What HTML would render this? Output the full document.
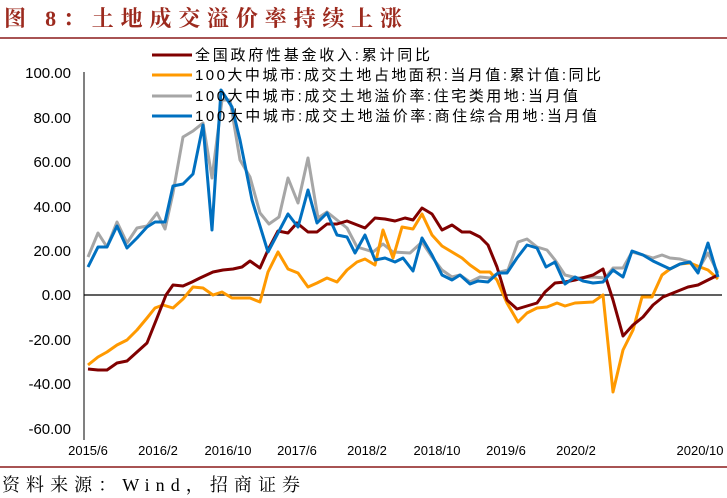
<!DOCTYPE html>
<html><head><meta charset="utf-8"><style>
body{margin:0;width:727px;height:498px;background:#fff;overflow:hidden}
</style></head><body>
<svg width="727" height="498" xmlns="http://www.w3.org/2000/svg" style="position:absolute;left:0;top:0">
<text x="4" y="26" font-family="Liberation Serif, Noto Serif CJK SC, serif" font-size="22" font-weight="bold" fill="#9c2a1e" textLength="398" lengthAdjust="spacing">图 8：土地成交溢价率持续上涨</text>
<line x1="0" y1="38" x2="727" y2="38" stroke="#8b1a1a" stroke-width="1.5"/>
<line x1="0" y1="467" x2="727" y2="467" stroke="#8b1a1a" stroke-width="1.5"/>
<text x="2" y="491" font-family="Liberation Serif, Noto Serif CJK SC, serif" font-size="18" fill="#000" textLength="298" lengthAdjust="spacing">资料来源：Wind，招商证券</text>
<g font-family="Liberation Sans, sans-serif" font-size="15" fill="#000" text-anchor="end">
<text x="71" y="78">100.00</text><text x="71" y="123">80.00</text><text x="71" y="167">60.00</text>
<text x="71" y="212">40.00</text><text x="71" y="256">20.00</text><text x="71" y="300">0.00</text>
<text x="71" y="345">-20.00</text><text x="71" y="389">-40.00</text><text x="71" y="434">-60.00</text>
</g>
<g font-family="Liberation Sans, sans-serif" font-size="13" fill="#000" text-anchor="middle">
<text x="88" y="455">2015/6</text><text x="158" y="455">2016/2</text><text x="228" y="455">2016/10</text>
<text x="297" y="455">2017/6</text><text x="367" y="455">2018/2</text><text x="437" y="455">2018/10</text>
<text x="506" y="455">2019/6</text><text x="576" y="455">2020/2</text><text x="700" y="455">2020/10</text>
</g>
<line x1="84" y1="72" x2="84" y2="440" stroke="#000" stroke-width="1"/>
<line x1="84" y1="295" x2="722" y2="295" stroke="#000" stroke-width="1.2"/>
<g fill="none" stroke-width="3" stroke-linejoin="round">
<polyline stroke="#a6a6a6" points="88,257 98,233 107,247 117,222 127,243 137,228 147,226 157,213 165,229 173,193 183,137 193,131 203,123 212,178 222,100 230,100 240,160 250,177 260,213 269,224 279,217 288,178 298,203 308,158 318,218 327,212 337,220 347,228 357,247 367,250 373,252 383,244 393,252 410,253 422,242 432,257 442,270 452,277 460,275 470,282 480,277 490,278 500,272 508,270 518,242 527,239 537,247 547,250 555,260 565,275 577,278 593,277 605,278 613,268 623,268 632,252 643,255 653,258 662,255 670,258 680,259 690,262 698,270 708,253 718,273"/>
<polyline stroke="#ff9900" points="88,365 98,357 107,352 117,345 127,340 137,330 147,318 155,308 163,305 173,308 183,299 193,287 203,288 213,295 222,292 232,298 240,298 250,298 260,302 268,272 278,252 288,269 298,273 308,287 317,283 327,278 337,282 347,270 357,262 365,259 375,265 383,230 393,258 402,227 413,229 422,214 432,235 442,246 452,252 462,258 470,265 480,272 490,272 497,280 507,303 518,322 527,313 537,308 547,307 557,303 565,306 575,303 593,302 603,295 613,392 623,350 633,330 642,297 652,297 662,275 670,269 680,264 690,263 700,267 708,270 718,279"/>
<polyline stroke="#800000" points="88,369 98,370 107,370 117,363 127,361 137,352 147,343 157,318 166,295 173,285 183,286 192,282 200,278 213,272 223,270 233,269 242,267 250,261 260,268 268,250 278,231 288,233 297,223 308,232 317,232 327,224 337,224 347,221 365,228 375,218 385,219 395,221 405,218 413,220 422,208 432,214 442,230 452,225 462,232 470,232 480,237 488,245 497,267 507,300 517,309 527,306 537,303 545,292 555,283 565,282 575,280 593,275 603,269 613,300 623,336 633,325 643,317 653,305 663,297 673,293 688,287 698,285 708,280 718,275"/>
<polyline stroke="#0070c0" points="88,267 98,247 107,247 117,226 127,248 137,238 147,227 155,222 165,222 173,186 183,184 193,174 203,125 212,230 221,90 232,107 240,140 252,200 268,252 278,233 288,214 298,227 308,190 317,223 327,213 337,235 347,237 355,253 365,235 375,260 385,258 395,262 403,258 413,271 422,238 432,255 442,275 452,280 460,275 470,284 478,281 488,282 498,273 507,273 517,258 527,245 537,248 546,267 555,262 565,284 575,277 583,281 593,283 603,282 613,270 623,277 632,251 643,255 653,261 670,269 680,264 690,262 698,273 708,243 718,277"/>
</g>
<g stroke-width="3">
<line x1="152" y1="55" x2="192" y2="55" stroke="#800000"/>
<line x1="152" y1="75" x2="192" y2="75" stroke="#ff9900"/>
<line x1="152" y1="96" x2="192" y2="96" stroke="#a6a6a6"/>
<line x1="152" y1="116" x2="192" y2="116" stroke="#0070c0"/>
</g>
<g font-family="Liberation Sans, Noto Sans CJK SC, sans-serif" font-size="15" fill="#000" lengthAdjust="spacing">
<text x="195" y="60" textLength="235" lengthAdjust="spacing">全国政府性基金收入:累计同比</text>
<text x="195" y="80" textLength="406" lengthAdjust="spacing">100大中城市:成交土地占地面积:当月值:累计值:同比</text>
<text x="195" y="101" textLength="383" lengthAdjust="spacing">100大中城市:成交土地溢价率:住宅类用地:当月值</text>
<text x="195" y="121" textLength="402" lengthAdjust="spacing">100大中城市:成交土地溢价率:商住综合用地:当月值</text>
</g>
</svg>
</body></html>
